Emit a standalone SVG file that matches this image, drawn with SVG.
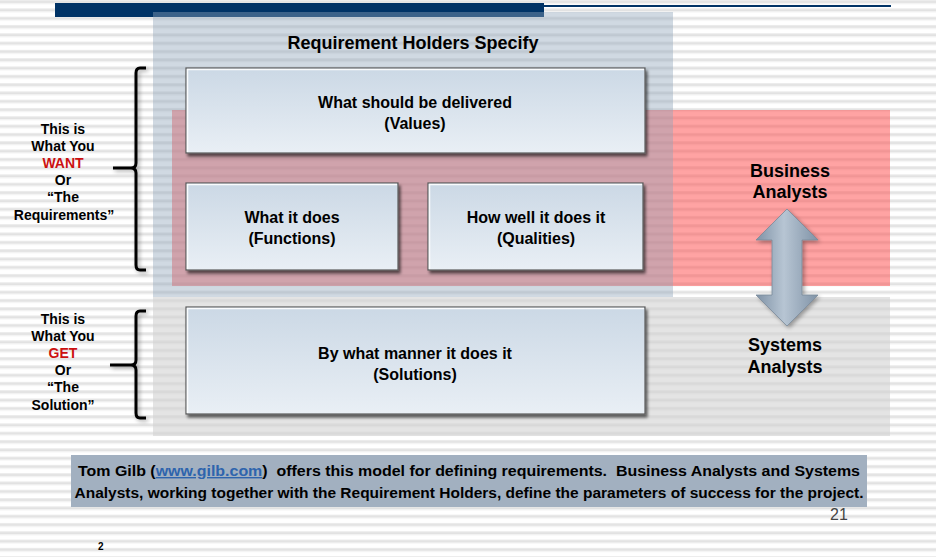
<svg xmlns="http://www.w3.org/2000/svg" width="936" height="557" viewBox="0 0 936 557">
<defs>
<pattern id="stripes" x="0" y="0" width="10" height="8.3" patternUnits="userSpaceOnUse">
<rect x="0" y="0" width="10" height="8.3" fill="#ffffff"/>
<rect x="0" y="0" width="10" height="1" fill="#ececec"/>
<rect x="0" y="1" width="10" height="2" fill="#e2e2e2"/>
<rect x="0" y="3" width="10" height="1" fill="#efefef"/>
</pattern>
<linearGradient id="boxFill" x1="0" y1="0" x2="0" y2="1">
<stop offset="0" stop-color="#cbd8e5"/>
<stop offset="1" stop-color="#e9eff5"/>
</linearGradient>
<linearGradient id="arrowFill" x1="0" y1="0" x2="1" y2="0">
<stop offset="0" stop-color="#7f92a6"/>
<stop offset="0.45" stop-color="#b7c5d3"/>
<stop offset="1" stop-color="#8093a7"/>
</linearGradient>
<filter id="shadow" x="-10%" y="-10%" width="130%" height="140%">
<feGaussianBlur in="SourceAlpha" stdDeviation="1.5"/>
<feOffset dx="2" dy="3" result="b"/>
<feComponentTransfer><feFuncA type="linear" slope="0.6"/></feComponentTransfer>
<feMerge><feMergeNode/><feMergeNode in="SourceGraphic"/></feMerge>
</filter>
<filter id="softshadow" x="-20%" y="-10%" width="150%" height="130%">
<feGaussianBlur in="SourceAlpha" stdDeviation="2"/>
<feOffset dx="2" dy="2"/>
<feComponentTransfer><feFuncA type="linear" slope="0.35"/></feComponentTransfer>
<feMerge><feMergeNode/><feMergeNode in="SourceGraphic"/></feMerge>
</filter>
</defs>
<style>
text { font-family: "Liberation Sans", Arial, sans-serif; font-weight: bold; fill: #000; }
.box { fill: url(#boxFill); stroke: #5a5a5a; stroke-width: 1.2; filter: url(#shadow); }
.hl { fill: none; stroke: #ffffff; stroke-width: 1.5; opacity: 0.9; }
.bt { font-size: 16px; text-anchor: middle; }
.side { font-size: 14px; text-anchor: middle; }
.red { fill: #cc1111; }
.analyst { font-size: 18px; text-anchor: middle; }
.brace { fill: none; stroke: #000; stroke-width: 3; stroke-linecap: butt; filter: url(#softshadow); }
.foot { font-size: 14px; text-anchor: middle; white-space: pre; }
</style>

<!-- background -->
<rect x="0" y="0" width="936" height="557" fill="url(#stripes)"/>

<!-- top bars -->
<rect x="55" y="3" width="489" height="14" fill="#003366"/>
<rect x="544" y="5" width="347" height="2" fill="#003366"/>

<!-- panels -->
<g id="panel-business">
<rect x="172" y="110" width="718" height="176" fill="#ff4848" opacity="0.5"/>
</g>
<g id="panel-requirement-holders">
<rect x="153" y="12" width="520" height="285" fill="#8fa5bb" opacity="0.42"/>
<text x="413" y="49" font-size="18" text-anchor="middle">Requirement Holders Specify</text>
</g>
<g id="panel-systems">
<rect x="153" y="297" width="737" height="139" fill="#d2d2d2" opacity="0.6"/>
</g>

<!-- nodes -->
<g id="node-values">
<rect class="box" x="186" y="68" width="459" height="85"/>
<path class="hl" d="M187.5,152 V69.5 H644"/>
<text class="bt" x="415" y="108">What should be delivered</text>
<text class="bt" x="415" y="129">(Values)</text>
</g>
<g id="node-functions">
<rect class="box" x="186" y="183" width="212" height="87"/>
<path class="hl" d="M187.5,269 V184.5 H397"/>
<text class="bt" x="292" y="223">What it does</text>
<text class="bt" x="292" y="244">(Functions)</text>
</g>
<g id="node-qualities">
<rect class="box" x="428" y="183" width="215" height="87"/>
<path class="hl" d="M429.5,269 V184.5 H642"/>
<text class="bt" x="536" y="223">How well it does it</text>
<text class="bt" x="536" y="244">(Qualities)</text>
</g>
<g id="node-solutions">
<rect class="box" x="186" y="307" width="459" height="107"/>
<path class="hl" d="M187.5,413 V308.5 H644"/>
<text class="bt" x="415" y="359">By what manner it does it</text>
<text class="bt" x="415" y="380">(Solutions)</text>
</g>

<g id="node-business-analysts">
<text class="analyst" x="790" y="177">Business</text>
<text class="analyst" x="790" y="198">Analysts</text>
</g>
<g id="node-systems-analysts">
<text class="analyst" x="785" y="351">Systems</text>
<text class="analyst" x="785" y="373">Analysts</text>
</g>

<g id="label-want">
<text class="side" x="63" y="134">This is</text>
<text class="side" x="63" y="151">What You</text>
<text class="side red" x="63" y="168">WANT</text>
<text class="side" x="63" y="185">Or</text>
<text class="side" x="63" y="202">“The</text>
<text class="side" x="64" y="220">Requirements”</text>
</g>
<g id="label-get">
<text class="side" x="63" y="324">This is</text>
<text class="side" x="63" y="341">What You</text>
<text class="side red" x="63" y="358">GET</text>
<text class="side" x="63" y="375">Or</text>
<text class="side" x="63" y="392">“The</text>
<text class="side" x="63" y="410">Solution”</text>
</g>

<!-- connectors -->
<g id="connectors">
<path class="brace" d="M146,68 H140 Q136,68 136,73 V163 Q136,168 131,168 H113 M131,168 Q136,168 136,173 V265 Q136,270 140,270 H146"/>
<path class="brace" d="M146,311 H140 Q136,311 136,316 V360 Q136,365 131,365 H110 M131,365 Q136,365 136,370 V413 Q136,418 140,418 H146"/>
<path d="M787,209 L818,240 L802,240 L802,295 L818,295 L787,326 L756,295 L772,295 L772,240 L756,240 Z" fill="url(#arrowFill)" stroke="#7a8a9a" stroke-width="0.8" filter="url(#softshadow)"/>
</g>

<!-- footer -->
<g id="footer">
<rect x="71" y="455" width="796" height="52" fill="#a2b0c0"/>
<text class="foot" x="469" y="476" textLength="782" lengthAdjust="spacingAndGlyphs" xml:space="preserve">Tom Gilb (<tspan fill="#2e64ad" text-decoration="underline">www.gilb.com</tspan>)  offers this model for defining requirements.  Business Analysts and Systems</text>
<text class="foot" x="469" y="498" textLength="789" lengthAdjust="spacingAndGlyphs">Analysts, working together with the Requirement Holders, define the parameters of success for the project.</text>
</g>
<text x="830" y="520" font-size="16" style="font-weight:normal;fill:#444">21</text>
<text x="98" y="550" font-size="10">2</text>
</svg>
